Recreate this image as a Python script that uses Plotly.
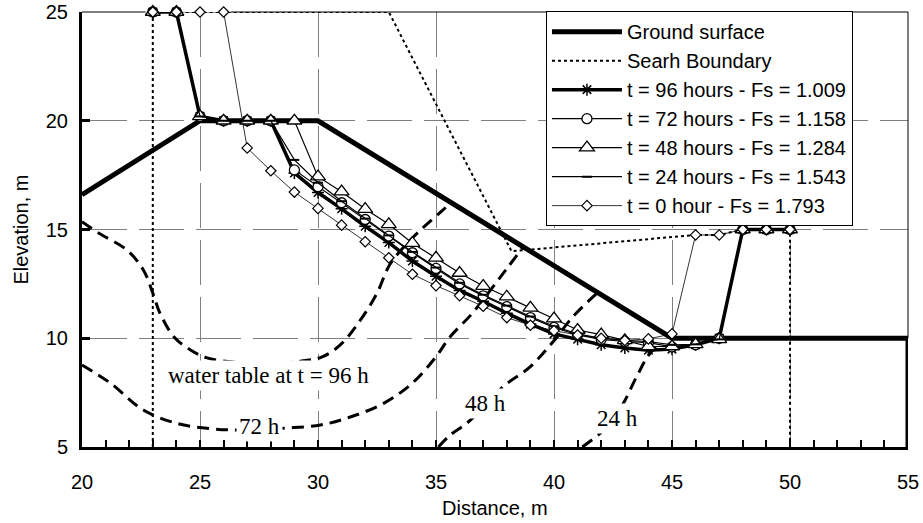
import plotly.graph_objects as go

# ---------------- data ----------------
ground_x = [20, 25, 30, 45, 55, 55]
ground_y = [16.6, 20, 20, 10, 10, 5]

search_x = [23, 23, 33, 38.2, 46, 47, 48, 50, 50]
search_y = [5, 25, 25, 14.0, 14.75, 14.75, 15, 15, 5]

slip_x = list(range(23, 51))
t96_y = [25, 25, 20.2, 20, 20, 20, 17.6, 16.7, 15.95, 15.15, 14.4, 13.55, 12.85, 12.2,
         11.7, 11.15, 10.65, 10.2, 9.95, 9.7, 9.55, 9.45, 9.5, 9.7, 10.0, 15, 15, 15]
t72_y = [25, 25, 20.2, 20, 20, 20, 17.74, 16.97, 16.23, 15.46, 14.7, 13.93, 13.21, 12.5,
         11.95, 11.45, 10.95, 10.5, 10.15, 9.95, 9.85, 9.8, 9.6, 9.7, 10.0, 15, 15, 15]
t48_y = [25, 25, 20.2, 20, 20, 20, 20, 17.43, 16.74, 15.94, 15.24, 14.37, 13.7, 13.0,
         12.4, 11.91, 11.4, 10.9, 10.38, 10.17, 9.9, 9.62, 9.62, 9.72, 9.95, 15, 15, 15]
t24_y = [25, 25, 20.2, 20, 20, 20, 18.2, 17.15, 16.3, 15.5, 14.73, 13.97, 13.25, 12.55,
         12.0, 11.5, 11.0, 10.55, 10.2, 10.0, 9.9, 9.85, 9.7, 9.72, 9.95, 15, 15, 15]
t0_y = [25, 25, 25, 25, 18.75, 17.7, 16.72, 15.97, 15.2, 14.44, 13.7, 12.94, 12.42, 11.96,
        11.47, 10.95, 10.6, 10.35, 10.15, 10.0, 9.9, 9.97, 10.2, 14.75, 14.75, 15, 15, 15]

wt96_x = [20, 20.7, 21.9, 22.6, 23.0, 23.3, 23.9, 24.6, 25.3, 26.5, 28, 29.3, 30.2, 31.0,
          31.8, 32.5, 33.05, 33.9, 34.5, 35.3, 35.6]
wt96_y = [15.36, 14.84, 14.06, 13.14, 12.08, 11.16, 10.06, 9.46, 9.1, 8.9, 8.85, 8.95, 9.15,
          9.75, 10.84, 12.07, 13.4, 14.5, 15.13, 15.9, 16.2]
wt72_x = [20, 21.2, 22.6, 24.0, 25.3, 26.4, 27.5, 28.5, 30.1, 31.4, 32.8, 34.0, 35.0, 35.6,
          36.5, 37.3, 38.0, 38.7]
wt72_y = [8.77, 7.94, 6.7, 6.09, 5.86, 5.78, 5.78, 5.86, 6.01, 6.39, 7.02, 7.94, 9.15, 10.07,
          11.1, 12.2, 13.2, 14.2]
wt48_x = [35.1, 35.6, 36.3, 37.1, 37.84, 39.0, 39.96, 40.8, 41.66, 41.85]
wt48_y = [5.0, 5.55, 6.09, 6.9, 7.77, 8.7, 9.84, 10.99, 11.91, 12.1]
wt24_x = [41.2, 41.95, 42.5, 42.94, 43.5, 44.07, 44.5]
wt24_y = [5.0, 5.63, 6.3, 7.01, 8.23, 9.31, 9.7]

labels = ["water table at t = 96 h", "72 h", "48 h", "24 h"]
label_x = [27.9, 27.5, 37.1, 42.7]
label_y = [8.3, 5.93, 6.98, 6.32]

x_ticks = [20, 25, 30, 35, 40, 45, 50, 55]
y_ticks = [5, 10, 15, 20, 25]

# ---------------- figure ----------------
fig = go.Figure()
SANS = "Liberation Sans, Arial, sans-serif"
SERIF = "Liberation Serif, Times New Roman, serif"
wt_dash = "12px,7px"

for wx, wy in [(wt96_x, wt96_y), (wt72_x, wt72_y), (wt48_x, wt48_y), (wt24_x, wt24_y)]:
    fig.add_trace(go.Scatter(x=wx, y=wy, mode="lines", showlegend=False,
                             line=dict(color="black", width=3, dash=wt_dash, shape="spline"),
                             hoverinfo="skip"))

fig.add_trace(go.Scatter(x=ground_x, y=ground_y, mode="lines", name="Ground surface",
                         line=dict(color="black", width=5)))
fig.add_trace(go.Scatter(x=search_x, y=search_y, mode="lines", name="Searh Boundary",
                         line=dict(color="black", width=2, dash="dot")))
fig.add_trace(go.Scatter(x=slip_x, y=t96_y, mode="lines+markers", cliponaxis=False,
                         name="t = 96 hours - Fs = 1.009",
                         line=dict(color="black", width=3.5),
                         marker=dict(symbol="asterisk-open", size=10, color="black",
                                     line=dict(color="black", width=1.5))))
fig.add_trace(go.Scatter(x=slip_x, y=t72_y, mode="lines+markers", cliponaxis=False,
                         name="t = 72 hours - Fs = 1.158",
                         line=dict(color="black", width=1.2),
                         marker=dict(symbol="circle", size=10, color="white",
                                     line=dict(color="black", width=1.3))))
fig.add_trace(go.Scatter(x=slip_x, y=t48_y, mode="lines+markers", cliponaxis=False,
                         name="t = 48 hours - Fs = 1.284",
                         line=dict(color="black", width=1.2),
                         marker=dict(symbol="triangle-up", size=13, color="white",
                                     line=dict(color="black", width=1.3))))
fig.add_trace(go.Scatter(x=slip_x, y=t24_y, mode="lines+markers", cliponaxis=False,
                         name="t = 24 hours - Fs = 1.543",
                         line=dict(color="black", width=1.2),
                         marker=dict(symbol="line-ew-open", size=7, color="black",
                                     line=dict(color="black", width=2))))
fig.add_trace(go.Scatter(x=slip_x, y=t0_y, mode="lines+markers", cliponaxis=False,
                         name="t = 0 hour - Fs = 1.793",
                         line=dict(color="black", width=0.8),
                         marker=dict(symbol="diamond", size=8, color="white",
                                     line=dict(color="black", width=1.2))))

for txt, lx, ly in zip(labels, label_x, label_y):
    fig.add_annotation(x=lx, y=ly, text=txt, showarrow=False,
                       font=dict(family=SERIF, size=23, color="black"),
                       bgcolor="white", borderpad=2)

# frame top and right (thin), in paper coordinates so they are not clipped
fig.add_shape(type="line", x0=0.18, x1=1, y0=1, y1=1, xref="paper", yref="paper",
              line=dict(color="black", width=1))
fig.add_shape(type="line", x0=0, x1=0.077, y0=1, y1=1, xref="paper", yref="paper",
              line=dict(color="black", width=1))
fig.add_shape(type="line", x0=1, x1=1, y0=0.25, y1=1, xref="paper", yref="paper",
              line=dict(color="black", width=1))

# axis titles as annotations (fixed positions)
fig.add_annotation(x=0.5, y=-0.14, xref="paper", yref="paper", text="Distance, m",
                   showarrow=False, xanchor="center", yanchor="middle",
                   font=dict(family=SANS, size=20, color="black"))
fig.add_annotation(x=-0.075, y=0.5, xref="paper", yref="paper", text="Elevation, m",
                   showarrow=False, xanchor="center", yanchor="middle", textangle=-90,
                   font=dict(family=SANS, size=20, color="black"))

fig.update_layout(
    width=923, height=523,
    margin=dict(l=82, r=15, t=12, b=76, autoexpand=False),
    paper_bgcolor="white", plot_bgcolor="white",
    font=dict(family=SANS, size=20, color="black"),
    legend=dict(x=0.5617, y=1.002, xanchor="left", yanchor="top",
                bgcolor="white", bordercolor="black", borderwidth=1,
                font=dict(family=SANS, size=20), itemwidth=70,
                tracegroupgap=0),
    showlegend=True,
)
fig.update_xaxes(range=[20, 55], tickvals=x_ticks, showline=True, linecolor="black",
                 linewidth=3, ticks="inside", ticklen=7, tickwidth=2, tickcolor="black",
                 minor=dict(dtick=1, ticks="inside", ticklen=7, tickwidth=2,
                            tickcolor="black", showgrid=False),
                 showgrid=True, gridcolor="#808080", gridwidth=1, griddash="45px,12px",
                 zeroline=False, ticklabelstandoff=15, automargin=False)
fig.update_yaxes(range=[5, 25], tickvals=y_ticks, showline=True, linecolor="black",
                 linewidth=3, ticks="inside", ticklen=8, tickwidth=3, tickcolor="black",
                 showgrid=True, gridcolor="#808080", gridwidth=1, griddash="45px,12px",
                 zeroline=False, ticklabelstandoff=7, automargin=False)

fig.write_html("out.html", config={"displayModeBar": False},
               post_script="document.body.style.margin='0';document.body.style.overflow='hidden';")
